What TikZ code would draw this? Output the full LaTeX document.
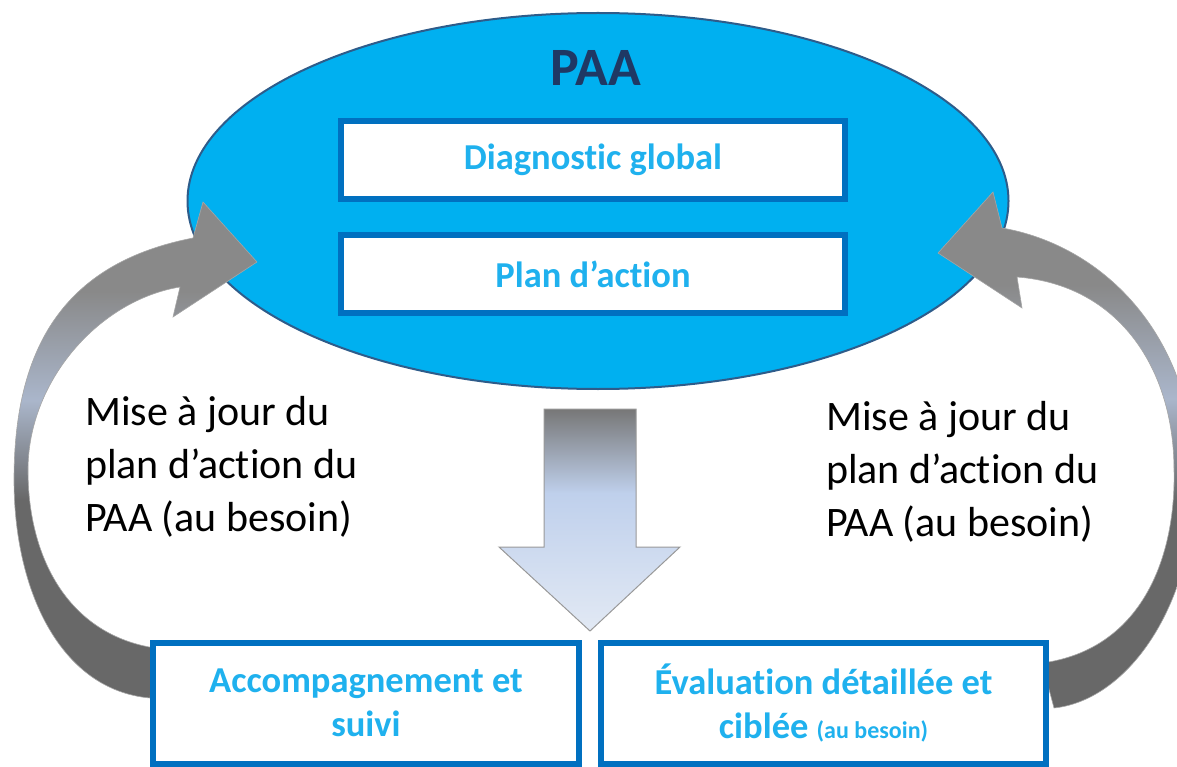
\documentclass[tikz,border=0pt]{standalone}
\usepackage{fontspec}
\setmainfont{Carlito}[Ligatures=CommonOff]
\usetikzlibrary{shapes.geometric}
\definecolor{paafill}{HTML}{00B0F0}
\definecolor{paaedge}{HTML}{2E5C8A}
\definecolor{paanavy}{HTML}{1F3864}
\definecolor{boxblue}{HTML}{0070C0}
\definecolor{boxtext}{HTML}{1FB1EE}
\definecolor{banddark}{HTML}{686868}
\definecolor{bandlight}{HTML}{AAB6CB}
\definecolor{bandgray}{HTML}{898989}
\definecolor{shafttop}{HTML}{777777}
\definecolor{shaftmid}{HTML}{BFD0EC}
\definecolor{shaftlow}{HTML}{E2E9F4}
\pgfdeclareverticalshading{bandshade}{100bp}{color(0bp)=(banddark); color(45bp)=(banddark); color(55bp)=(bandlight); color(66bp)=(bandgray); color(100bp)=(bandgray)}
\pgfdeclareverticalshading{shaftshade}{100bp}{color(0bp)=(shaftlow); color(25bp)=(shaftlow); color(56bp)=(shaftmid); color(75bp)=(shafttop); color(100bp)=(shafttop)}

\begin{document}
\begin{tikzpicture}[x=1pt,y=-1pt]
	\tikzset{innerbox/.style={draw=boxblue,line width=6pt,fill=white,minimum width=504pt,minimum height=78pt,text=boxtext,font=\bfseries\fontsize{36.5}{42}\selectfont}}
	\tikzset{bottombox/.style={draw=boxblue,line width=6pt,fill=white,minimum height=121pt,align=center,text=boxtext,font=\bfseries\fontsize{36.5}{44}\selectfont}}
	\tikzset{sidetext/.style={align=left,anchor=north west,inner sep=0pt,font=\fontsize{42}{53}\selectfont}}
	\tikzset{curvearrow/.style={draw=gray!70,line width=0.6pt,shading=bandshade}}
	\tikzset{downarrow/.style={draw=gray!80,line width=1pt,shading=shaftshade}}

	\useasboundingbox (0,0) rectangle (1177,767);
	\clip (0,0) rectangle (1177,767);

	% PAA
	\node[ellipse,draw=paaedge,line width=2pt,fill=paafill,minimum width=821pt,minimum height=376pt] (paa) at (598,201) {};
	\node[text=paanavy,font=\bfseries\fontsize{54}{60}\selectfont] (paatitle) at (596,68) {PAA};

	% arrows back to the PAA
	\shade[curvearrow] (150,698) .. controls (60,690) and (14,590) .. (14,480)
		.. controls (14,340) and (70,262) .. (193,238)
		-- (203,202) -- (257,262) -- (173,317) -- (180,287)
		.. controls (100,300) and (28,380) .. (28,470)
		.. controls (28,560) and (70,635) .. (155,648) -- cycle;
	\shade[curvearrow] (1054,708) .. controls (1130,700) and (1198,600) .. (1195,470)
		.. controls (1190,330) and (1100,245) .. (1002,228)
		-- (993,192) -- (938,253) -- (1022,308) -- (1017,277)
		.. controls (1120,285) and (1174,370) .. (1174,470)
		.. controls (1176,560) and (1140,650) .. (1042,663) -- cycle;

	\node[innerbox] (diag) at (593,160) {Diagnostic global};
	\node[innerbox] (plan) at (593,274) {Plan d’action};

	\shade[downarrow] (544,409) -- (636,409) -- (636,547) -- (680,547)
		-- (590,631) -- (499,547) -- (544,547) -- cycle;

	\node[bottombox,minimum width=426pt] (accomp) at (366,703) {Accompagnement et\\suivi};
	\node[bottombox,minimum width=445pt] (evalu) at (823.5,703) {Évaluation détaillée et\\ciblée {\fontsize{24}{30}\selectfont(au besoin)}};

	\node[sidetext] (majleft) at (85,396) {Mise à jour du\\plan d’action du\\PAA (au besoin)};
	\node[sidetext] (majright) at (826,401) {Mise à jour du\\plan d’action du\\PAA (au besoin)};
\end{tikzpicture}
\end{document}
